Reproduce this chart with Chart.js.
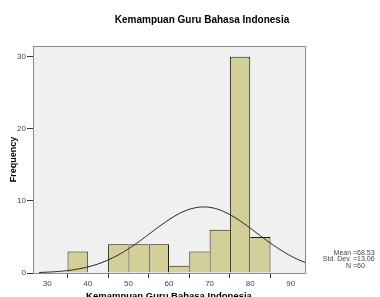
<!DOCTYPE html>
<html>
<head>
<meta charset="utf-8">
<script src="https://cdn.jsdelivr.net/npm/chart.js@4/dist/chart.umd.min.js"></script>
<style>
html,body{margin:0;padding:0;background:#fff;}
#wrap{width:380px;height:297px;position:relative;}
</style>
</head>
<body>
<div id="wrap"><canvas id="c" width="380" height="297"></canvas></div>
<script>
// ---- data ----
const chartTitle = 'Kemampuan Guru Bahasa Indonesia';
const xAxisTitle = 'Kemampuan Guru Bahasa Indonesia';
const yAxisTitle = 'Frequency';
const binCenters = [37.5, 42.5, 47.5, 52.5, 57.5, 62.5, 67.5, 72.5, 77.5, 82.5];
const frequencies = [3, null, 4, 4, 4, 1, 3, 6, 30, 5];
const curveX = [28, 30, 32, 34, 36, 38, 40, 42, 44, 46, 48, 50, 52, 54, 56, 58, 60, 62, 64, 66, 68, 70, 72, 74, 76, 78, 80, 82, 84, 86, 88, 90, 92, 93.5];
const curveY = [0.07, 0.12, 0.18, 0.28, 0.41, 0.60, 0.84, 1.16, 1.57, 2.07, 2.66, 3.35, 4.11, 4.94, 5.79, 6.62, 7.40, 8.09, 8.63, 8.99, 9.16, 9.11, 8.85, 8.39, 7.78, 7.05, 6.23, 5.38, 4.54, 3.75, 3.02, 2.37, 1.82, 1.47];
const xTicks = [30, 40, 50, 60, 70, 80, 90];
const yTicks = [0, 10, 20, 30];
const statsLabels = ['Mean =68.53', 'Std. Dev. =13.06', 'N =60'];

const barData = binCenters.map((x, i) => ({x: x, y: frequencies[i]}));
const curveData = curveX.map((x, i) => ({x: x, y: curveY[i]}));

const tickFont = {family: "'Liberation Sans Narrow', 'Liberation Sans', Arial, sans-serif", size: 8};

function barBorder(ctx) {
  const i = ctx.dataIndex;
  const cur = frequencies[i];
  const prev = i > 0 ? frequencies[i - 1] : null;
  const next = i < frequencies.length - 1 ? frequencies[i + 1] : null;
  return {
    top: 1,
    bottom: 0,
    left: (prev == null || prev <= cur) ? 1 : 0,
    right: (next == null || next < cur) ? 1 : 0
  };
}

const decor = {
  id: 'decor',
  beforeDraw(chart) {
    const {ctx, chartArea: a} = chart;
    ctx.save();
    ctx.fillStyle = '#f0f0f0';
    ctx.fillRect(a.left, a.top, a.right - a.left, a.bottom - a.top);
    ctx.restore();
  },
  afterDraw(chart) {
    const {ctx, chartArea: a} = chart;
    ctx.save();
    ctx.strokeStyle = '#8a8a8a';
    ctx.lineWidth = 1;
    ctx.strokeRect(Math.round(a.left) + 0.5, Math.round(a.top) + 0.5, Math.round(a.right - a.left), Math.round(a.bottom - a.top));
    ctx.fillStyle = '#000';
    ctx.font = "bold 10px 'Liberation Sans', Arial, sans-serif";
    ctx.textAlign = 'center';
    ctx.textBaseline = 'middle';
    ctx.fillText(chartTitle, 202, 20);
    ctx.font = "bold 9.5px 'Liberation Sans', Arial, sans-serif";
    ctx.textBaseline = 'alphabetic';
    ctx.fillText(xAxisTitle, (a.left + a.right) / 2, 299);
    ctx.save();
    ctx.translate(14, (a.top + a.bottom) / 2);
    ctx.rotate(-Math.PI / 2);
    ctx.font = "bold 9px 'Liberation Sans', Arial, sans-serif";
    ctx.textBaseline = 'middle';
    ctx.fillText(yAxisTitle, 0, 0);
    ctx.restore();
    ctx.font = "7px 'Liberation Sans Narrow', 'Liberation Sans', Arial, sans-serif";
    ctx.fillStyle = '#444';
    ctx.textBaseline = 'middle';
    statsLabels.forEach((s, i) => {
      const k = s.indexOf('=');
      const y = 253 + i * 6.5;
      ctx.textAlign = 'right';
      ctx.fillText(s.slice(0, k), 353, y);
      ctx.textAlign = 'left';
      ctx.fillText(s.slice(k), 353, y);
    });
    ctx.restore();
  }
};

new Chart(document.getElementById('c'), {
  type: 'bar',
  data: {
    datasets: [
      {
        type: 'line',
        data: curveData,
        borderColor: '#222',
        borderWidth: 1,
        pointRadius: 0,
        tension: 0.4,
        fill: false,
        order: 0
      },
      {
        type: 'bar',
        data: barData,
        backgroundColor: '#d3cf98',
        borderColor: '#1a1a1a',
        borderWidth: barBorder,
        borderSkipped: false,
        inflateAmount: 0,
        categoryPercentage: 1,
        barPercentage: 1,
        order: 1
      }
    ]
  },
  plugins: [decor],
  options: {
    responsive: false,
    animation: false,
    devicePixelRatio: 1,
    layout: {padding: {left: 0, top: 46, right: 75, bottom: 0}},
    plugins: {legend: {display: false}, tooltip: {enabled: false}, title: {display: false}},
    scales: {
      x: {
        type: 'linear',
        min: 26.5,
        max: 93.5,
        offset: false,
        afterBuildTicks(s) { s.ticks = xTicks.map(v => ({value: v})); },
        afterFit(s) { s.height = 24; },
        grid: {display: true, drawOnChartArea: false, drawTicks: true, tickLength: 5, color: '#333'},
        border: {display: true, color: '#8a8a8a'},
        ticks: {font: tickFont, color: '#444', padding: 1, maxRotation: 0, autoSkip: false}
      },
      y: {
        type: 'linear',
        min: 0,
        max: 31.5,
        afterBuildTicks(s) { s.ticks = yTicks.map(v => ({value: v})); },
        afterFit(s) { s.width = 33; },
        grid: {display: true, drawOnChartArea: false, drawTicks: true, tickLength: 6, color: '#333'},
        border: {display: true, color: '#8a8a8a'},
        ticks: {font: tickFont, color: '#444', padding: 1, autoSkip: false}
      }
    }
  }
});
</script>
</body>
</html>
